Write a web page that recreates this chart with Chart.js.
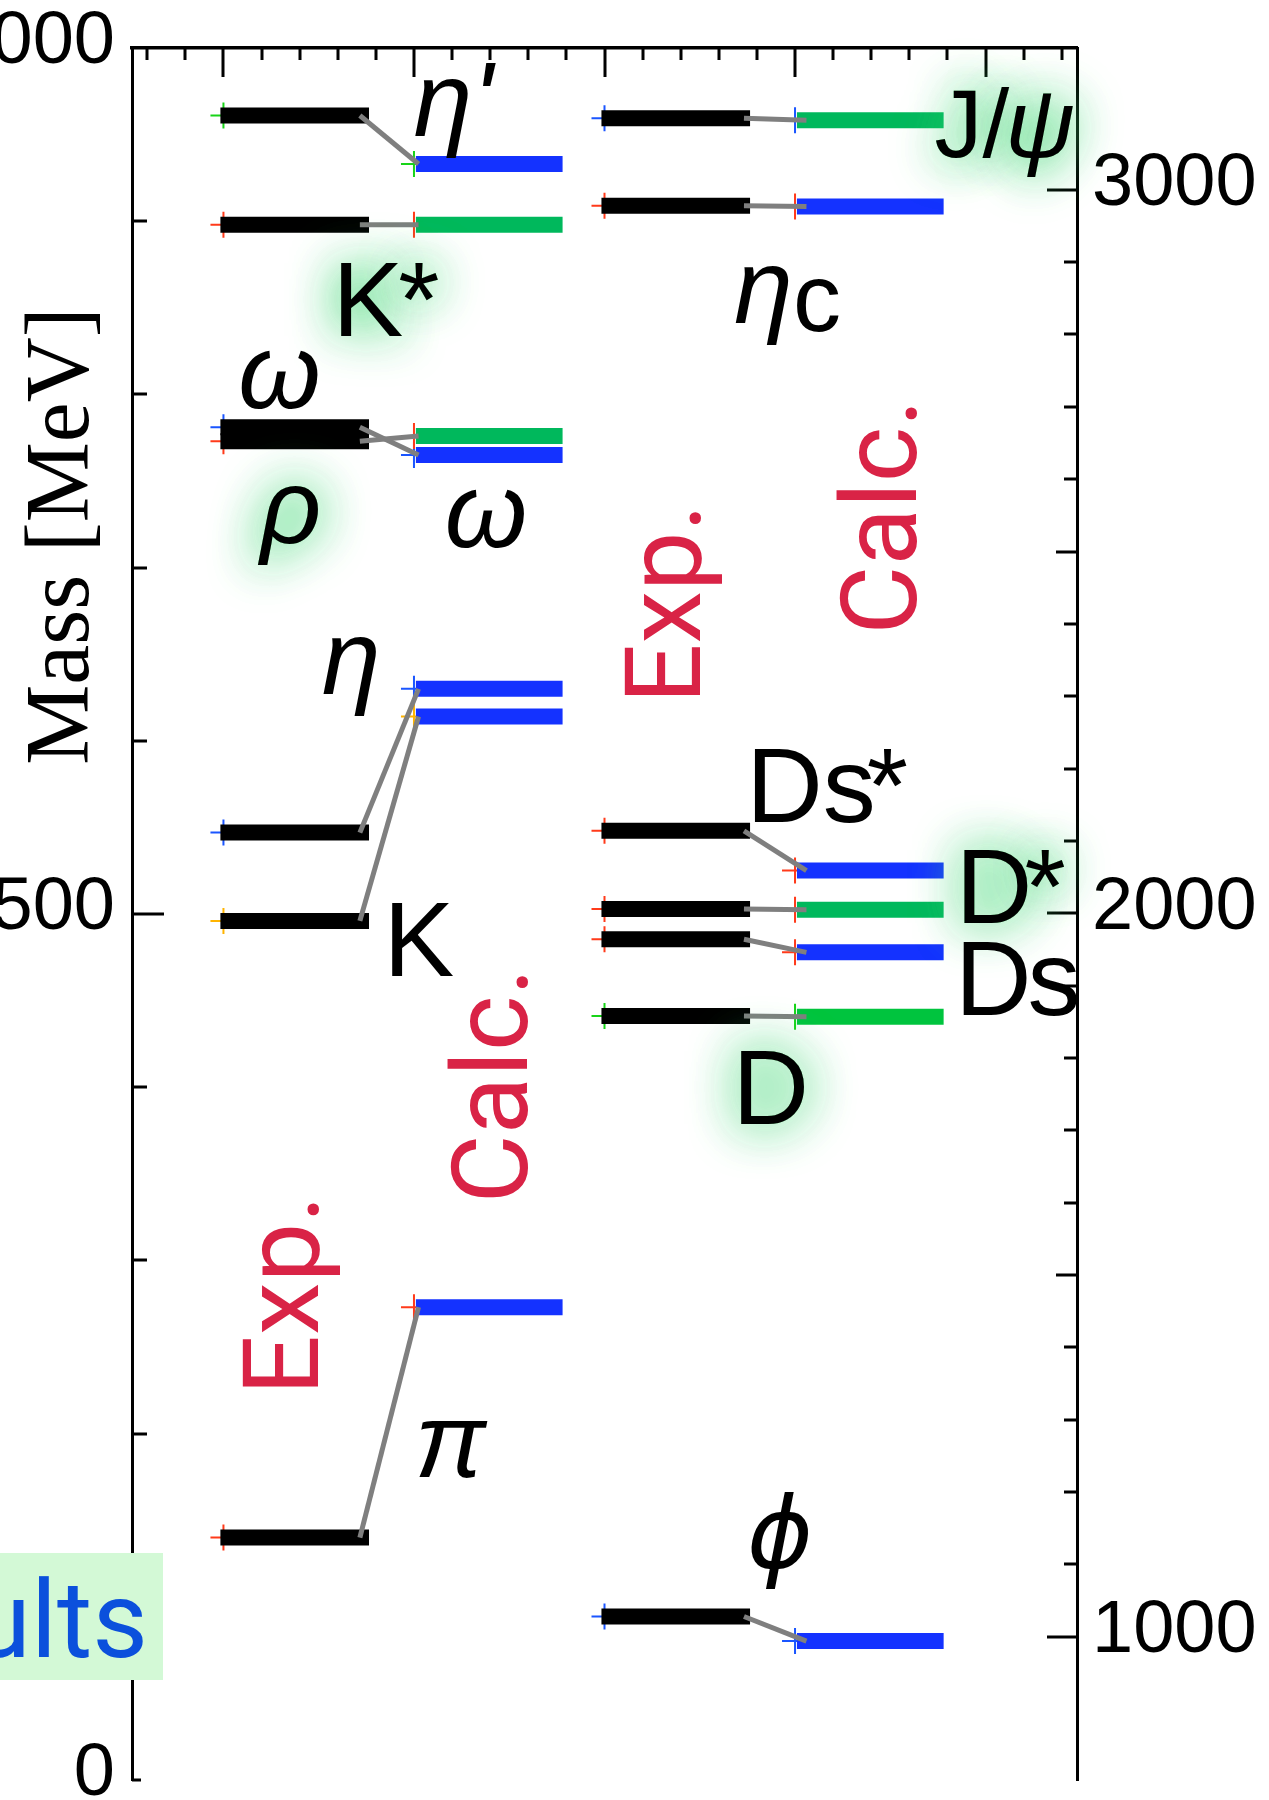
<!DOCTYPE html>
<html>
<head>
<meta charset="utf-8">
<script src="https://cdn.jsdelivr.net/npm/chart.js@4.4.1/dist/chart.umd.min.js"></script>
<style>
  html, body { margin: 0; padding: 0; background: #fff; }
  #wrap { width: 1269px; height: 1800px; overflow: hidden; }
  canvas { display: block; }
</style>
</head>
<body>
<div id="wrap"><canvas id="c" width="1269" height="1800"></canvas></div>
<script>
// Light mesons, left mass axis [MeV]
const lightNames     = ['π', 'K', 'η', 'ρ', 'ω', 'K*', "η'"];
const lightExp       = [140, 496, 547, 773, 781, 898, 961];
const lightCalc      = [273, 614, 630, 776, 765, 898, 933];
const lightCalcColor = ['blue', 'blue', 'blue', 'green', 'blue', 'green', 'blue'];
const lightMarkColor = ['red', 'orange', 'blue', 'red', 'blue', 'red', 'green'];

// Heavy mesons, right mass axis [MeV]
const heavyNames     = ['ϕ', 'D', 'Ds', 'D*', 'Ds*', 'ηc', 'J/ψ'];
const heavyExp       = [1028, 1858, 1964, 2006, 2114, 2978, 3099];
const heavyCalc      = [994, 1857, 1946, 2005, 2059, 2977, 3096];
const heavyCalcColor = ['blue', 'green2', 'blue', 'green', 'blue', 'blue', 'green'];
const heavyMarkColor = ['blue', 'green', 'red', 'red', 'red', 'red', 'blue'];

// Labelled ticks on each mass axis
const leftTickLabels  = [0, 500, 1000];
const rightTickLabels = [1000, 2000, 3000];

const palette = {
  blue: '#1432ff', green: '#00b85c', green2: '#00c43e',
  red: '#ff3a1a', orange: '#ffb400', markBlue: '#1a55ff', markGreen: '#18d418',
  gray: '#7f7f7f', crimson: '#d92346', black: '#000000'
};
const markPalette = { red: palette.red, orange: palette.orange, blue: palette.markBlue, green: palette.markGreen };

// Column geometry in x-axis units (relative to each panel's origin)
const EXP_L = -0.08, EXP_R = 3.82, CALC_L = 5.05, CALC_R = 8.9;
const panels = [
  { names: lightNames, exp: lightExp, calc: lightCalc, calcColor: lightCalcColor, markColor: lightMarkColor,
    axis: 'yL', x0: 0, link: [3.58, 5.12] },
  { names: heavyNames, exp: heavyExp, calc: heavyCalc, calcColor: heavyCalcColor, markColor: heavyMarkColor,
    axis: 'yR', x0: 10, link: [3.66, 5.3] }
];

const datasets = [];
panels.forEach(p => {
  p.names.forEach((name, i) => {
    const ye = p.exp[i], yc = p.calc[i];
    const common = { yAxisID: p.axis, xAxisID: 'x', pointRadius: 0, pointHoverRadius: 0, showLine: true, borderCapStyle: 'butt', fill: false };
    datasets.push(Object.assign({}, common, {
      label: name + ' exp', order: 2, borderColor: palette.black, borderWidth: 16,
      data: [{ x: p.x0 + EXP_L, y: ye }, { x: p.x0 + EXP_R, y: ye }]
    }));
    datasets.push(Object.assign({}, common, {
      label: name + ' calc', order: 2, borderColor: palette[p.calcColor[i]], borderWidth: 16,
      data: [{ x: p.x0 + CALC_L, y: yc }, { x: p.x0 + CALC_R, y: yc }]
    }));
    datasets.push(Object.assign({}, common, {
      label: name + ' link', order: 1, borderColor: palette.gray, borderWidth: 5,
      data: [{ x: p.x0 + p.link[0], y: ye }, { x: p.x0 + p.link[1], y: yc }]
    }));
    datasets.push({
      label: name + ' marks', yAxisID: p.axis, xAxisID: 'x', order: 3, showLine: false,
      pointStyle: 'cross', pointRadius: 13, pointHoverRadius: 13,
      pointBorderColor: markPalette[p.markColor[i]], borderColor: markPalette[p.markColor[i]],
      pointBorderWidth: 2,
      data: [{ x: p.x0, y: ye }, { x: p.x0 + 5, y: yc }]
    });
  });
});

// Particle names and column captions, anchored in axis units.
// Each part: [text, font, extra horizontal shift in px before the part]
const SANS = '"Liberation Sans", Arial, sans-serif';
const F_UP = '106px ' + SANS, F_IT = 'italic 106px ' + SANS;
const particleLabels = [
  { parts: [["η'", F_IT]],                   x: 4.99,  y: 949,  axis: 'yL' },
  { parts: [['K', F_UP], ['*', F_UP, -5]],   x: 2.86,  y: 834,  axis: 'yL', glow: true },
  { parts: [['ω', F_IT]],                    x: 0.39,  y: 792,  axis: 'yL' },
  { parts: [['ρ', F_IT]],                    x: 0.97,  y: 714,  axis: 'yL', glow: true },
  { parts: [['ω', F_IT]],                    x: 5.81,  y: 712,  axis: 'yL' },
  { parts: [['η', F_IT]],                    x: 2.58,  y: 627,  axis: 'yL' },
  { parts: [['K', F_UP]],                    x: 4.20,  y: 464,  axis: 'yL' },
  { parts: [['π', F_IT]],                    x: 5.02,  y: 175,  axis: 'yL' },
  { parts: [['J/', '96px ' + SANS], ['ψ', 'italic 96px ' + SANS, -4]], x: 18.66, y: 3045, axis: 'yR', glow: true },
  { parts: [['η', F_IT]],                    x: 13.40, y: 2816, axis: 'yR' },
  { parts: [['c', '96px ' + SANS]],          x: 14.95, y: 2805, axis: 'yR' },
  { parts: [['Ds', F_UP], ['*', F_UP, -9]],  x: 13.72, y: 2126, axis: 'yR' },
  { parts: [['D', F_UP], ['*', F_UP, -8]],   x: 19.22, y: 1987, axis: 'yR', glow: true },
  { parts: [['D', F_UP], ['s', F_UP, -4]],   x: 19.20, y: 1860, axis: 'yR' },
  { parts: [['D', F_UP]],                    x: 13.36, y: 1709, axis: 'yR', glow: true },
  { parts: [['ϕ', 'italic 100px "DejaVu Sans", ' + SANS]], x: 13.74, y: 1095, axis: 'yR' }
];
const columnCaptions = [
  { text: 'Exp.',  x: 2.47,  y: 280,  axis: 'yL' },
  { text: 'Calc.', x: 7.96,  y: 401,  axis: 'yL' },
  { text: 'Exp.',  x: 12.51, y: 2428, axis: 'yR' },
  { text: 'Calc.', x: 18.18, y: 2548, axis: 'yR' }
];

// Inward tick marks on top, left and right edges
const tickMarks = {
  id: 'tickMarks',
  afterDraw(chart) {
    const { ctx, chartArea: a, scales } = chart;
    ctx.save();
    ctx.strokeStyle = '#000';
    ctx.lineWidth = 3;
    ctx.lineCap = 'butt';
    ctx.beginPath();
    for (let u = -2; u <= 22; u++) {
      const px = Math.round(scales.x.getPixelForValue(u));
      const len = u % 5 === 0 ? 29 : 12;
      ctx.moveTo(px, a.top); ctx.lineTo(px, a.top + len);
    }
    for (let v = 0; v < 1000; v += 100) {
      const py = Math.round(scales.yL.getPixelForValue(v));
      const len = v === 500 ? 32 : (v === 0 ? 9 : 15);
      ctx.moveTo(a.left, py); ctx.lineTo(a.left + len, py);
    }
    for (let v = 1000; v <= 3000; v += 100) {
      const py = Math.round(scales.yR.getPixelForValue(v));
      const len = v % 1000 === 0 ? 30 : (v % 500 === 0 ? 21 : 13);
      ctx.moveTo(a.right, py); ctx.lineTo(a.right - len, py);
    }
    ctx.stroke();
    ctx.restore();
  }
};

function glowText(ctx, parts, x, y, glow) {
  // lay the parts out once so the halo and the glyphs line up
  let cx = x;
  const placed = parts.map(([t, f, dx]) => {
    ctx.font = f;
    cx += dx || 0;
    const r = { t, f, x: cx };
    cx += ctx.measureText(t).width;
    return r;
  });
  if (glow) {
    ctx.save();
    ctx.shadowColor = 'rgba(70, 215, 120, 0.95)';
    ctx.shadowBlur = 48;
    ctx.fillStyle = 'rgba(150, 230, 170, 1)';
    for (let k = 0; k < 2; k++) placed.forEach(p => { ctx.font = p.f; ctx.fillText(p.t, p.x, y); });
    ctx.restore();
  }
  ctx.fillStyle = '#000';
  placed.forEach(p => { ctx.font = p.f; ctx.fillText(p.t, p.x, y); });
}

const textLayer = {
  id: 'textLayer',
  afterDraw(chart) {
    const { ctx, scales } = chart;
    ctx.save();
    ctx.textBaseline = 'alphabetic';
    ctx.textAlign = 'left';
    particleLabels.forEach(l => {
      glowText(ctx, l.parts, scales.x.getPixelForValue(l.x), scales[l.axis].getPixelForValue(l.y), l.glow);
    });

    // rotated column captions
    ctx.fillStyle = palette.crimson;
    ctx.font = '106px Roboto, "Open Sans", sans-serif';
    ctx.textAlign = 'center';
    columnCaptions.forEach(c => {
      ctx.save();
      ctx.translate(scales.x.getPixelForValue(c.x), scales[c.axis].getPixelForValue(c.y));
      ctx.rotate(-Math.PI / 2);
      ctx.fillText(c.text, 0, 0);
      ctx.restore();
    });

    // axis title
    ctx.save();
    ctx.fillStyle = '#000';
    ctx.font = '90px "Liberation Serif", "Times New Roman", serif';
    ctx.translate(88, 536);
    ctx.rotate(-Math.PI / 2);
    ctx.fillText('Mass [MeV]', 0, 0);
    ctx.restore();

    // results tag at the lower left
    ctx.fillStyle = '#d3f9d6';
    ctx.fillRect(0, 1553, 163, 127);
    ctx.fillStyle = '#0b50dc';
    ctx.font = '108px Roboto, "Open Sans", sans-serif';
    ctx.textAlign = 'right';
    ctx.fillText('Results', 148, 1657);
    ctx.restore();
  }
};

const tickFont = { family: SANS, size: 74 };
const fixedTicks = values => scale => { scale.ticks = values.map(v => ({ value: v })); };
new Chart(document.getElementById('c'), {
  type: 'scatter',
  data: { datasets },
  options: {
    responsive: false,
    animation: false,
    events: [],
    devicePixelRatio: 1,
    layout: { padding: { left: 0, right: 0, top: 0, bottom: 20 } },
    plugins: { legend: { display: false }, tooltip: { enabled: false } },
    scales: {
      x: {
        type: 'linear', position: 'top', min: -2.4, max: 22.4,
        ticks: { display: false },
        grid: { display: false, drawTicks: false },
        border: { display: true, width: 3.5, color: '#000' },
        afterFit: s => { s.height = 48; s.paddingLeft = 0; s.paddingRight = 0; }
      },
      yL: {
        type: 'linear', position: 'left', min: 0, max: 1000,
        afterBuildTicks: fixedTicks(leftTickLabels),
        ticks: { autoSkip: false, padding: 17, labelOffset: -5, color: '#000', font: tickFont,
                 callback: v => String(v) },
        grid: { display: false, drawTicks: false },
        border: { display: true, width: 3, color: '#000' },
        afterFit: s => { s.width = 132; s.paddingTop = 0; s.paddingBottom = 0; }
      },
      yR: {
        type: 'linear', position: 'right', min: 802, max: 3196,
        afterBuildTicks: fixedTicks(rightTickLabels),
        ticks: { autoSkip: false, padding: 15, labelOffset: -5, color: '#000', font: tickFont,
                 callback: v => String(v) },
        grid: { display: false, drawTicks: false },
        border: { display: true, width: 3, color: '#000' },
        afterFit: s => { s.width = 192; s.paddingTop = 0; s.paddingBottom = 0; }
      }
    }
  },
  plugins: [tickMarks, textLayer]
});
</script>
</body>
</html>
